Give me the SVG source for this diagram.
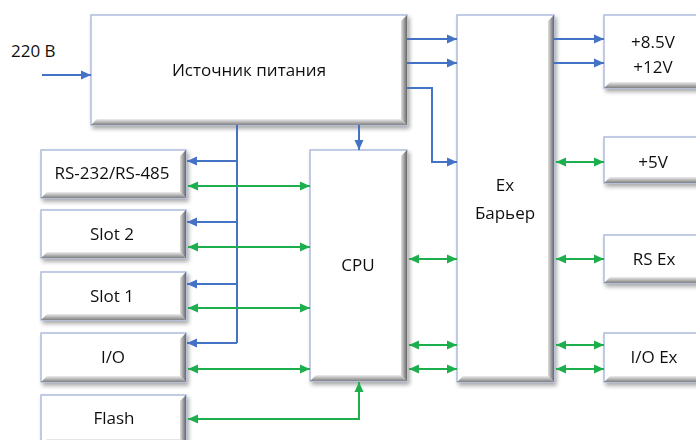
<svg xmlns="http://www.w3.org/2000/svg" width="696" height="440" viewBox="0 0 696 440">
<style>
.face{fill:#fff;stroke:#AFBDDD;stroke-width:1.5}
.bb{fill:url(#gb)}
.br{fill:url(#gr)}
.t{font-family:"Open Sans","Liberation Sans",sans-serif;font-size:17px;fill:#111;text-anchor:middle}
.blue{stroke:#4472C4;stroke-width:2;fill:none}
.green{stroke:#1DAF4E;stroke-width:2;fill:none}
.ab{marker-end:url(#mb)}
.ag{marker-end:url(#mg);marker-start:url(#mg)}
</style>
<defs>
<linearGradient id="gb" x1="0" y1="0" x2="0" y2="1"><stop offset="0" stop-color="#eeeeee"/><stop offset="1" stop-color="#808080"/></linearGradient>
<linearGradient id="gr" x1="0" y1="0" x2="1" y2="0"><stop offset="0" stop-color="#e0e0e0"/><stop offset="1" stop-color="#666666"/></linearGradient>
<filter id="sh" x="-10%" y="-10%" width="130%" height="130%"><feGaussianBlur in="SourceAlpha" stdDeviation="2"/><feOffset dx="2" dy="3"/><feComponentTransfer><feFuncA type="linear" slope="0.35"/></feComponentTransfer><feMerge><feMergeNode/><feMergeNode in="SourceGraphic"/></feMerge></filter>
<marker id="mb" markerUnits="userSpaceOnUse" markerWidth="10" markerHeight="10" refX="10" refY="5" orient="auto-start-reverse"><path d="M0,0.5 L10,5 L0,9.5 z" fill="#4472C4"/></marker>
<marker id="mg" markerUnits="userSpaceOnUse" markerWidth="10" markerHeight="10" refX="10" refY="5" orient="auto-start-reverse"><path d="M0,0.5 L10,5 L0,9.5 z" fill="#1DAF4E"/></marker>
</defs>

<text class="t" x="11" y="57" style="text-anchor:start">220 В</text>

<g id="psu" filter="url(#sh)">
<rect class="face" x="91" y="15" width="316" height="110"/>
<polygon class="bb" points="91,125 407,125 401,119 97,119"/>
<polygon class="br" points="407,15 407,125 401,119 401,21"/>
<text class="t" x="249" y="76">Источник питания</text>
</g>

<g id="rs232" filter="url(#sh)">
<rect class="face" x="41" y="150" width="145" height="48"/>
<polygon class="bb" points="41,198 186,198 180,192 47,192"/>
<polygon class="br" points="186,150 186,198 180,192 180,156"/>
<text class="t" x="112" y="179">RS-232/RS-485</text>
</g>

<g id="slot2" filter="url(#sh)">
<rect class="face" x="41" y="210" width="145" height="48"/>
<polygon class="bb" points="41,258 186,258 180,252 47,252"/>
<polygon class="br" points="186,210 186,258 180,252 180,216"/>
<text class="t" x="112" y="240">Slot 2</text>
</g>

<g id="slot1" filter="url(#sh)">
<rect class="face" x="41" y="272" width="145" height="48"/>
<polygon class="bb" points="41,320 186,320 180,314 47,314"/>
<polygon class="br" points="186,272 186,320 180,314 180,278"/>
<text class="t" x="112" y="302">Slot 1</text>
</g>

<g id="io" filter="url(#sh)">
<rect class="face" x="41" y="333" width="145" height="49"/>
<polygon class="bb" points="41,382 186,382 180,376 47,376"/>
<polygon class="br" points="186,333 186,382 180,376 180,339"/>
<text class="t" x="113" y="363">I/O</text>
</g>

<g id="flash" filter="url(#sh)">
<rect class="face" x="41" y="395" width="145" height="50"/>
<polygon class="bb" points="41,445 186,445 180,439 47,439"/>
<polygon class="br" points="186,395 186,445 180,439 180,401"/>
<text class="t" x="114" y="424">Flash</text>
</g>

<g id="cpu" filter="url(#sh)">
<rect class="face" x="310" y="150" width="97" height="231"/>
<polygon class="bb" points="310,381 407,381 401,375 316,375"/>
<polygon class="br" points="407,150 407,381 401,375 401,156"/>
<text class="t" x="358" y="271">CPU</text>
</g>

<g id="ex" filter="url(#sh)">
<rect class="face" x="457" y="15" width="97" height="367"/>
<polygon class="bb" points="457,382 554,382 548,376 463,376"/>
<polygon class="br" points="554,15 554,382 548,376 548,21"/>
<text class="t" x="505" y="191">Ex</text>
<text class="t" x="505" y="219">Барьер</text>
</g>

<g id="v12" filter="url(#sh)">
<rect class="face" x="604" y="15" width="98" height="73"/>
<polygon class="bb" points="604,88 702,88 696,82 610,82"/>
<text class="t" x="653" y="48">+8.5V</text>
<text class="t" x="653" y="73">+12V</text>
</g>

<g id="v5" filter="url(#sh)">
<rect class="face" x="604" y="137" width="98" height="46"/>
<polygon class="bb" points="604,183 702,183 696,177 610,177"/>
<text class="t" x="653" y="168">+5V</text>
</g>

<g id="rsex" filter="url(#sh)">
<rect class="face" x="604" y="235" width="98" height="48"/>
<polygon class="bb" points="604,283 702,283 696,277 610,277"/>
<text class="t" x="654" y="265">RS Ex</text>
</g>

<g id="ioex" filter="url(#sh)">
<rect class="face" x="604" y="333" width="98" height="49"/>
<polygon class="bb" points="604,382 702,382 696,376 610,376"/>
<text class="t" x="654" y="363">I/O Ex</text>
</g>

<g id="connectors">
<path class="blue ab" d="M42,75 H91"/>
<path class="blue" d="M237,125 V343"/>
<path class="blue ab" d="M237,161 H187"/>
<path class="blue ab" d="M237,222 H187"/>
<path class="blue ab" d="M237,284 H187"/>
<path class="blue ab" d="M237,343 H187"/>
<path class="blue ab" d="M359,125 V150"/>
<path class="blue ab" d="M407,39 H457"/>
<path class="blue ab" d="M407,63 H457"/>
<path class="blue ab" d="M407,88 H432 V162 H457"/>
<path class="blue ab" d="M554,39 H604"/>
<path class="blue ab" d="M554,63 H604"/>
<path class="green ag" d="M188,186 H310"/>
<path class="green ag" d="M188,247 H310"/>
<path class="green ag" d="M188,308 H310"/>
<path class="green ag" d="M188,369 H310"/>
<path class="green ag" d="M188,419 H359 V382"/>
<path class="green ag" d="M409,259 H457"/>
<path class="green ag" d="M409,345 H457"/>
<path class="green ag" d="M409,369 H457"/>
<path class="green ag" d="M556,162 H604"/>
<path class="green ag" d="M556,259 H604"/>
<path class="green ag" d="M556,345 H604"/>
<path class="green ag" d="M556,369 H604"/>
</g>
</svg>
